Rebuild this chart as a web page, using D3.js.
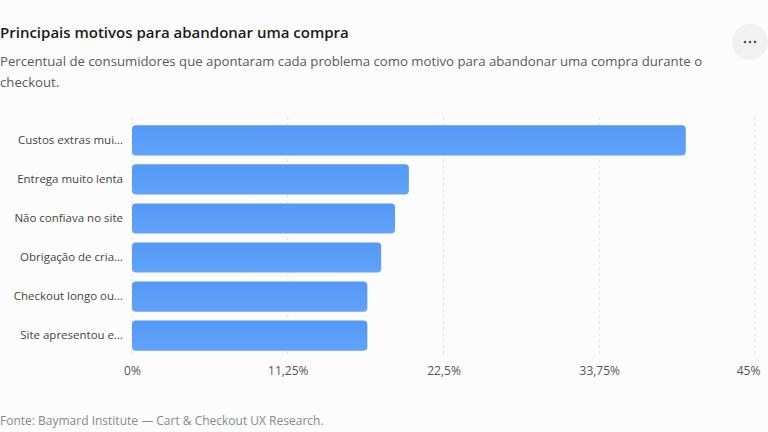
<!DOCTYPE html>
<html>
  <head>
    <meta charset="utf-8" />
    <script src="https://d3js.org/d3.v7.min.js"></script>
    <style>
      html, body { margin: 0; padding: 0; background: #fcfcfc; }
      text { font-family: "Open Sans", "Noto Sans", sans-serif; }
    </style>
  </head>
  <body>
    <div id="vis"></div>
    <script>
      // Data
      var categories = [
        "Custos extras mui…",
        "Entrega muito lenta",
        "Não confiava no site",
        "Obrigação de cria…",
        "Checkout longo ou…",
        "Site apresentou e…"
      ];
      var values = [40, 20, 19, 18, 17, 17];
      var tickValues = [0, 11.25, 22.5, 33.75, 45];

      var title = "Principais motivos para abandonar uma compra";
      var subtitle = "Percentual de consumidores que apontaram cada problema como motivo para abandonar uma compra durante o checkout.";
      var source = "Fonte: Baymard Institute — Cart & Checkout UX Research.";

      var W = 768, H = 432;
      var margin = { top: 121, left: 132 };

      var svg = d3.select("#vis").append("svg")
        .attr("width", W)
        .attr("height", H);

      svg.append("rect").attr("width", W).attr("height", H).attr("fill", "#fcfcfc");

      // Gradient for bars
      var grad = svg.append("defs").append("linearGradient")
        .attr("id", "barGrad")
        .attr("x1", 0).attr("y1", 0).attr("x2", 0).attr("y2", 1);
      grad.append("stop").attr("offset", "0%").attr("stop-color", "#5499f6");
      grad.append("stop").attr("offset", "100%").attr("stop-color", "#62a3f9");

      // Title + subtitle
      svg.append("text")
        .attr("x", 0).attr("y", 38)
        .attr("font-size", 15).attr("font-weight", 600).attr("fill", "#1b1b1b")
        .text(title);

      var sub = svg.append("text")
        .attr("x", 0).attr("y", 66)
        .attr("font-size", 13.2).attr("fill", "#5a5a5a");

      // simple word wrap
      var words = subtitle.split(" "), line = [];
      var tspan = sub.append("tspan").attr("x", 0).attr("dy", 0);
      words.forEach(function (w) {
        line.push(w);
        tspan.text(line.join(" "));
        if (tspan.node().getComputedTextLength() > 715 && line.length > 1) {
          line.pop();
          tspan.text(line.join(" "));
          line = [w];
          tspan = sub.append("tspan").attr("x", 0).attr("dy", 21).text(w);
        }
      });

      // Menu button
      var btn = svg.append("g").attr("transform", "translate(750,42)");
      btn.append("circle").attr("r", 18).attr("fill", "#f1f1f1");
      btn.selectAll("circle.dot").data([-5, 0, 5]).enter().append("circle")
        .attr("class", "dot").attr("cx", function (d) { return d; })
        .attr("r", 1.3).attr("fill", "#555");

      var g = svg.append("g")
        .attr("transform", "translate(" + margin.left + "," + margin.top + ")");

      // Scales
      var x = d3.scaleLinear().domain([0, 45]).range([0, 623]);
      var y = d3.scaleBand().domain(categories).range([0, 234]).paddingInner(0.23).paddingOuter(0.11);

      // Grid lines
      g.selectAll("line.grid").data(tickValues).enter().append("line")
        .attr("class", "grid")
        .attr("x1", function (d) { return x(d); })
        .attr("x2", function (d) { return x(d); })
        .attr("y1", -4).attr("y2", 235)
        .attr("stroke", "#e2e2e2")
        .attr("stroke-dasharray", "3,3");

      // X axis
      var fmt = function (d) { return String(d).replace(".", ",") + "%"; };
      var xAxis = g.append("g")
        .attr("transform", "translate(0," + 242 + ")")
        .call(d3.axisBottom(x).tickValues(tickValues).tickFormat(fmt).tickSize(0));
      xAxis.select(".domain").remove();
      xAxis.selectAll("text").attr("font-size", 12).attr("fill", "#555")
        .attr("font-family", "Open Sans, Noto Sans, sans-serif")
        .attr("dx", function (d) { return d === 45 ? -7 : 0; });

      // Y axis
      var yAxis = g.append("g")
        .attr("transform", "translate(-6,0)")
        .call(d3.axisLeft(y).tickSize(0));
      yAxis.select(".domain").remove();
      yAxis.selectAll("text").attr("font-size", 11.5).attr("fill", "#444")
        .attr("font-family", "Open Sans, Noto Sans, sans-serif");

      // Bars
      g.selectAll("rect.bar").data(values).enter().append("rect")
        .attr("class", "bar")
        .attr("x", x(0))
        .attr("y", function (d, i) { return y(categories[i]); })
        .attr("width", function (d) { return x(d) - x(0); })
        .attr("height", y.bandwidth())
        .attr("rx", 4)
        .attr("fill", "url(#barGrad)");

      // Source
      svg.append("text")
        .attr("x", 0).attr("y", 425)
        .attr("font-size", 12).attr("fill", "#8a8a8a")
        .text(source);
    </script>
  </body>
</html>
